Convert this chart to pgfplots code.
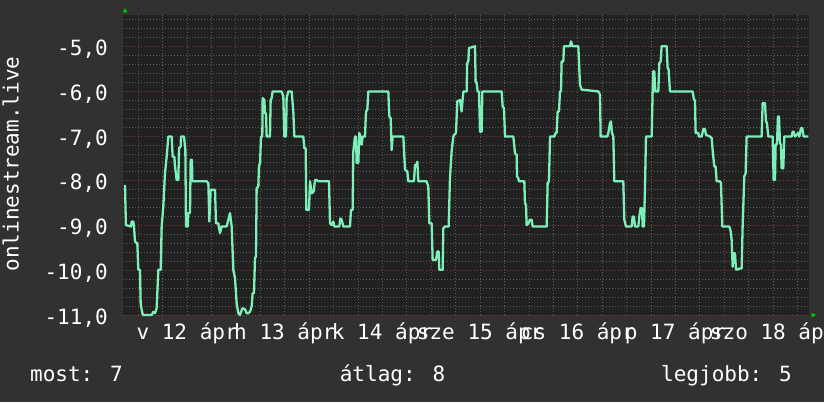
\documentclass[border=0pt]{standalone}
\usepackage{fontspec}
\usepackage{pgfplots}
\pgfplotsset{compat=1.18}
\newfontfamily\monofont{DejaVu Sans Mono}
\newcommand\lab{\monofont\fontsize{21}{24}\selectfont}
\definecolor{bgc}{RGB}{49,49,49}
\definecolor{canvas}{RGB}{33,33,33}
\definecolor{minorg}{RGB}{92,92,92}
\definecolor{majorg}{RGB}{130,60,60}
\definecolor{linec}{RGB}{125,240,185}
\definecolor{arrowg}{RGB}{0,200,0}
\begin{document}
\begin{tikzpicture}
\fill[bgc] (0pt,0pt) rectangle (824pt,402pt);
\begin{axis}[
  at={(123pt,87pt)}, anchor=south west,
  width=686pt, height=300.3pt, scale only axis,
  xmin=-3.76, xmax=164.8, ymin=-11, ymax=-4.284,
  axis background/.style={fill=canvas},
  axis line style={draw=none},
  xtick={0,24,...,144}, xticklabels={},
  minor xtick={6,12,...,162},
  ytick={-11,-10,-9,-8,-7,-6,-5},
  yticklabels={{-11,0},{-10,0},{-9,0},{-8,0},{-7,0},{-6,0},{-5,0}},
  minor ytick={-10.8,-10.6,-10.4,-10.2,-9.8,-9.6,-9.4,-9.2,-8.8,-8.6,-8.4,-8.2,-7.8,-7.6,-7.4,-7.2,-6.8,-6.6,-6.4,-6.2,-5.8,-5.6,-5.4,-5.2,-4.8,-4.6,-4.4},
  grid=both,
  major grid style={majorg, dash pattern=on 1pt off 2pt, line width=1pt},
  minor grid style={minorg, dash pattern=on 1pt off 2pt, line width=1pt},
  major tick length=0pt, minor tick length=0pt,
  yticklabel style={font=\lab, text=white, anchor=base east, inner sep=0pt, xshift=-15pt, yshift=-9pt},
  clip=false,
]
\addplot[linec, line width=2.3pt, line join=round] coordinates {
(-3.27,-8.09) (-3.05,-8.99) (-1.79,-9.02) (-1.63,-8.91) (-1.22,-8.91) (-1.06,-9.02) (-0.81,-9.36) (-0.24,-9.40)
(0.01,-9.99) (0.42,-9.99) (0.58,-10.74) (0.99,-10.96) (1.24,-11.0) (3.28,-11.0) (3.69,-10.93) (4.10,-10.96)
(4.51,-10.85) (4.92,-9.99) (5.50,-9.99) (5.74,-9.02) (6.15,-8.57) (6.56,-7.83) (6.97,-7.46) (7.38,-7.01)
(8.20,-7.01) (8.44,-7.46) (8.85,-7.46) (9.02,-7.68) (9.43,-7.98) (9.84,-7.98) (10.00,-7.27) (10.41,-7.23)
(10.49,-7.01) (11.23,-7.01) (11.56,-7.31) (11.72,-9.02) (12.13,-9.02) (12.29,-8.72) (12.70,-8.72) (12.87,-7.53)
(13.19,-7.53) (13.28,-8.01) (16.80,-8.01) (17.21,-8.05) (17.45,-8.91) (17.78,-8.20) (18.85,-8.20) (19.09,-8.95)
(19.66,-8.95) (20.07,-9.17) (20.48,-9.02) (21.71,-9.02) (22.12,-8.87) (22.53,-8.72) (22.94,-9.02) (23.35,-9.99)
(23.76,-10.18) (24.17,-10.74) (24.58,-10.96) (24.99,-11.0) (25.56,-10.85) (26.22,-10.87) (26.63,-10.96) (27.03,-10.96)
(27.44,-10.93) (27.85,-10.81) (28.10,-10.51) (28.43,-10.51) (28.67,-9.73) (28.92,-9.69) (29.08,-8.16) (29.49,-8.13)
(29.66,-7.64) (29.90,-7.64) (30.15,-7.01) (30.47,-7.01) (30.56,-6.15) (30.97,-6.19) (31.13,-6.49) (31.38,-6.49)
(31.54,-7.01) (32.36,-7.01) (32.52,-6.19) (32.77,-6.15) (33.01,-6.0) (35.23,-6.0) (35.63,-6.11) (35.88,-7.01)
(36.29,-7.01) (36.45,-6.15) (36.86,-6.0) (37.68,-6.0) (38.09,-6.45) (38.34,-7.01) (40.55,-7.01) (40.79,-7.27)
(41.12,-7.27) (41.29,-8.65) (41.94,-8.65) (42.19,-8.01) (42.60,-8.28) (43.09,-8.24) (43.42,-7.98) (43.83,-7.98)
(44.23,-8.01) (46.86,-8.01) (47.10,-8.95) (47.51,-8.99) (47.92,-8.91) (48.17,-9.02) (49.39,-9.02) (49.64,-8.84)
(49.97,-8.87) (50.38,-9.02) (52.01,-9.02) (52.26,-8.65) (52.67,-8.65) (52.83,-7.34) (53.24,-7.01) (53.49,-7.01)
(53.65,-7.60) (54.06,-7.60) (54.31,-6.93) (54.64,-7.01) (54.88,-7.19) (55.13,-7.01) (55.70,-7.01) (55.95,-6.45)
(56.27,-6.41) (56.52,-6.0) (61.43,-6.0) (61.68,-6.56) (62.01,-6.60) (62.25,-7.31) (62.50,-7.01) (65.12,-7.01)
(65.53,-7.75) (66.10,-7.79) (66.35,-8.01) (67.74,-8.01) (67.99,-7.64) (68.40,-7.64) (68.56,-7.57) (68.80,-8.01)
(70.85,-8.01) (71.26,-8.13) (71.51,-8.95) (72.08,-8.95) (72.33,-9.77) (73.14,-9.77) (73.47,-9.58) (73.80,-9.58)
(73.96,-9.99) (74.78,-9.99) (74.95,-9.06) (75.36,-9.02) (76.26,-9.02) (76.58,-7.94) (76.99,-7.34) (77.40,-7.01)
(77.65,-6.97) (78.06,-6.93) (78.39,-6.22) (79.04,-6.19) (79.45,-6.45) (79.86,-6.0) (80.68,-6.0) (80.80,-5.37)
(81.09,-5.33) (81.25,-5.03) (82.73,-4.99) (82.89,-5.78) (83.14,-5.81) (83.38,-6.0) (83.71,-6.0) (83.96,-6.90)
(84.37,-6.90) (84.53,-6.0) (89.28,-6.0) (89.53,-6.34) (89.85,-6.37) (90.10,-7.01) (92.15,-7.01) (92.56,-7.38)
(92.97,-7.42) (93.05,-7.90) (93.37,-7.94) (93.54,-8.01) (94.85,-8.01) (95.01,-8.50) (95.26,-8.54) (95.42,-8.99)
(95.83,-8.95) (96.24,-8.87) (96.65,-8.87) (96.90,-9.02) (100.34,-9.02) (100.58,-8.05) (100.91,-8.01) (101.16,-7.01)
(102.22,-7.01) (102.55,-6.93) (102.79,-6.93) (103.04,-6.45) (103.37,-6.45) (103.61,-6.0) (103.86,-6.0) (104.02,-5.33)
(104.43,-5.33) (104.59,-4.99) (106.07,-4.99) (106.31,-4.88) (106.48,-4.92) (106.64,-4.99) (108.12,-4.99) (108.53,-5.85)
(108.94,-5.96) (113.03,-6.0) (113.44,-6.07) (113.60,-7.01) (115.24,-7.01) (115.49,-6.93) (115.90,-6.71) (116.14,-6.67)
(116.39,-6.93) (116.72,-7.01) (116.96,-8.01) (119.17,-8.01) (119.42,-8.87) (119.83,-9.02) (121.22,-9.02) (121.47,-8.80)
(121.79,-8.80) (122.04,-9.02) (122.86,-9.02) (123.10,-8.80) (123.43,-8.61) (123.76,-8.61) (123.92,-9.02) (124.25,-9.02)
(124.50,-8.16) (124.74,-7.01) (126.14,-7.01) (126.38,-6.0) (126.54,-5.55) (126.79,-5.55) (127.03,-6.0) (127.77,-6.0)
(128.02,-5.37) (128.35,-5.33) (128.59,-4.99) (129.82,-4.99) (130.07,-5.48) (130.31,-5.51) (130.64,-6.0) (136.21,-6.0)
(136.54,-6.19) (136.78,-6.19) (136.95,-6.93) (137.60,-6.93) (137.76,-7.01) (138.42,-7.01) (138.83,-6.84) (139.24,-6.84)
(139.48,-6.97) (140.47,-7.01) (140.88,-7.04) (141.12,-7.31) (141.53,-7.68) (141.86,-7.68) (142.11,-8.01) (142.92,-8.01)
(143.17,-8.05) (143.50,-9.02) (145.14,-9.02) (145.38,-9.06) (145.63,-9.17) (145.79,-9.32) (146.04,-9.92) (146.28,-9.62)
(146.61,-9.62) (146.86,-9.98) (147.43,-9.98) (147.67,-9.96) (148.25,-9.96) (148.49,-9.02) (148.90,-7.90) (149.23,-7.83)
(149.48,-7.01) (153.16,-7.01) (153.41,-6.26) (153.98,-6.26) (154.23,-6.67) (154.47,-6.71) (154.80,-7.01) (155.87,-7.01)
(156.11,-7.98) (156.44,-7.98) (156.60,-7.19) (156.93,-7.17) (157.17,-6.56) (157.42,-6.56) (157.67,-7.16) (157.91,-7.19)
(158.08,-7.72) (158.48,-7.72) (158.73,-7.01) (160.53,-7.01) (160.78,-6.90) (161.02,-6.90) (161.35,-7.01) (161.76,-6.97)
(162.17,-6.93) (162.42,-7.01) (162.83,-6.82) (163.15,-6.82) (163.48,-7.01) (164.63,-7.01)
};
\node[font=\lab, text=white, anchor=base, inner sep=0pt, yshift=-24.3pt] at (axis cs:12,-11) {v 12 ápr};
\node[font=\lab, text=white, anchor=base, inner sep=0pt, yshift=-24.3pt] at (axis cs:36,-11) {h 13 ápr};
\node[font=\lab, text=white, anchor=base, inner sep=0pt, yshift=-24.3pt] at (axis cs:60,-11) {k 14 ápr};
\node[font=\lab, text=white, anchor=base, inner sep=0pt, yshift=-24.3pt] at (axis cs:84,-11) {sze 15 ápr};
\node[font=\lab, text=white, anchor=base, inner sep=0pt, yshift=-24.3pt] at (axis cs:108,-11) {cs 16 ápr};
\node[font=\lab, text=white, anchor=base, inner sep=0pt, yshift=-24.3pt] at (axis cs:132,-11) {p 17 ápr};
\node[font=\lab, text=white, anchor=base, inner sep=0pt, yshift=-24.3pt] at (axis cs:156,-11) {szo 18 ápr};
\end{axis}
\node[font=\lab, text=white, anchor=base, inner sep=0pt] at (76.5pt,20.5pt) {most: 7};
\node[font=\lab, text=white, anchor=base, inner sep=0pt] at (392.5pt,20.5pt) {átlag: 8};
\node[font=\lab, text=white, anchor=base, inner sep=0pt] at (726.5pt,20.5pt) {legjobb: 5};
\node[font=\lab, text=white, anchor=base, inner sep=0pt, rotate=90] at (18.5pt,238pt) {onlinestream.live};
\fill[arrowg] (122.5pt,389.5pt) -- (127.5pt,389.5pt) -- (125pt,394pt) -- cycle;
\fill[arrowg] (811.5pt,84.5pt) -- (811.5pt,89.5pt) -- (816pt,87pt) -- cycle;
\pgfresetboundingbox
\useasboundingbox (0pt,0pt) rectangle (824pt,402pt);
\end{tikzpicture}
\end{document}
